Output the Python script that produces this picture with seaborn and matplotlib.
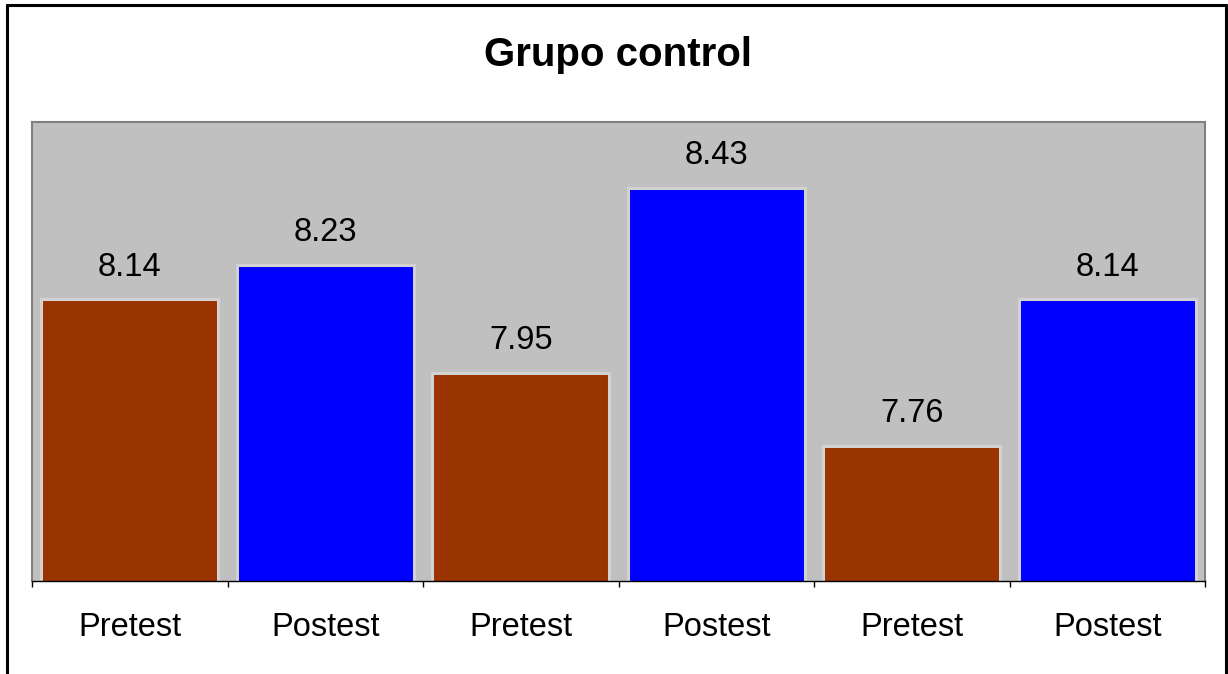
import matplotlib
matplotlib.use("Agg")
import matplotlib.pyplot as plt
from matplotlib.lines import Line2D
import seaborn as sns
import pandas as pd

# Scores for the control group, three pretest/postest pairs
phases = ["Pretest", "Postest", "Pretest", "Postest", "Pretest", "Postest"]
scores = [8.14, 8.23, 7.95, 8.43, 7.76, 8.14]
slots = [0, 1, 2, 3, 4, 5]
title = "Grupo control"

sns.set_theme(style="white")
plt.rcParams["font.family"] = ["Liberation Sans", "DejaVu Sans"]

df = pd.DataFrame({"slot": slots, "phase": phases, "score": scores})

fig = plt.figure(figsize=(12.28, 6.74), dpi=100)
fig.patch.set_facecolor("white")
ax = fig.add_axes([32 / 1228, 1 - 581 / 674, (1205 - 32) / 1228, (581 - 122) / 674])
ax.set_facecolor("#C0C0C0")

sns.barplot(data=df, x="slot", y="score", hue="phase",
            palette={"Pretest": "#993300", "Postest": "#0000FF"},
            dodge=False, width=0.905, legend=False, ax=ax,
            edgecolor="#D2D2D2", linewidth=2.2, saturation=1)

ax.set_ylim(7.41, 8.60)
ax.set_xlim(-0.5, len(slots) - 0.5)

# value labels above the bars
for x, v in zip(slots, scores):
    ax.annotate(f"{v:.2f}", xy=(x, v), xytext=(0, 17), textcoords="offset points",
                ha="center", va="baseline", fontsize=23.5, color="black")

# category labels under each bar, tick marks at category boundaries
ax.set_xticks(slots)
ax.set_xticklabels(phases, fontsize=23.5, color="black")
ax.set_xticks([s - 0.5 for s in slots] + [len(slots) - 0.5], minor=True)
ax.tick_params(axis="x", which="major", length=0, pad=22)
ax.tick_params(axis="x", which="minor", length=4, width=1, color="black",
               direction="out", bottom=True)
ax.set_yticks([])
ax.set_xlabel("")
ax.set_ylabel("")

for side in ("left", "top", "right"):
    ax.spines[side].set_visible(True)
    ax.spines[side].set_color("#808080")
    ax.spines[side].set_linewidth(1.5)
ax.spines["bottom"].set_color("black")
ax.spines["bottom"].set_linewidth(1.0)

fig.text(618 / 1228, 1 - 55 / 674, title, ha="center", va="center",
         fontsize=29, fontweight="bold", color="black")

# outer frame around the chart area
W, H = 1228, 674
frame = [([7 / W, 7 / W], [0, 1 - 5 / H]),
         ([7 / W, 1226 / W], [1 - 5 / H, 1 - 5 / H]),
         ([1226 / W, 1226 / W], [1 - 5 / H, 0])]
for xs, ys in frame:
    fig.add_artist(Line2D(xs, ys, color="black", linewidth=2.2,
                          transform=fig.transFigure))

fig.savefig("out.png", dpi=100, facecolor="white")
